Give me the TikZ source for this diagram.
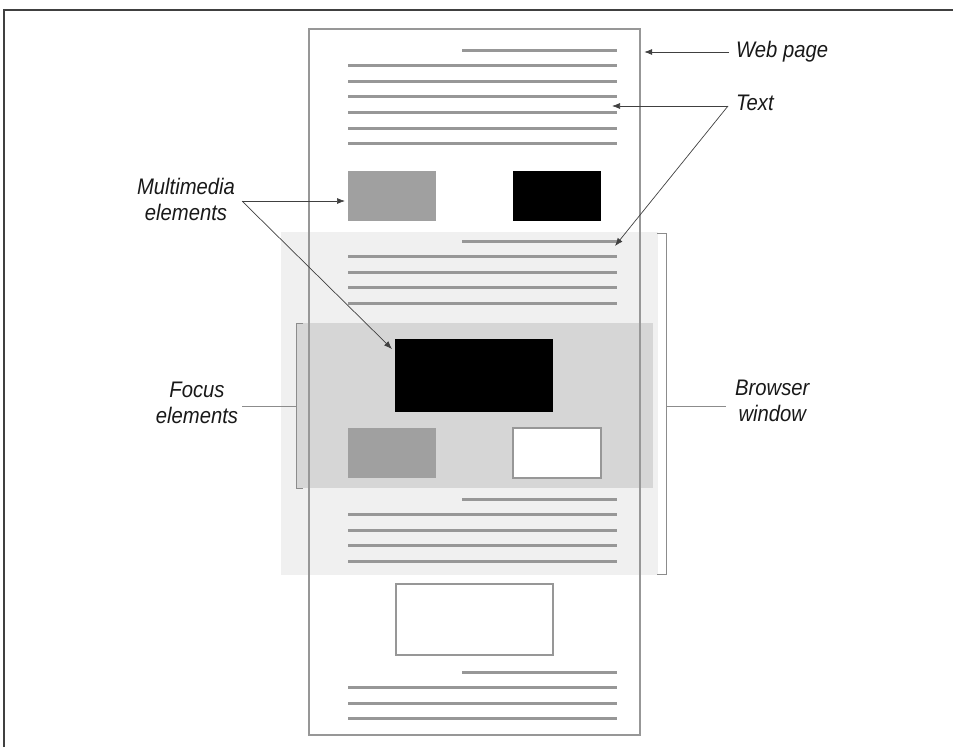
\documentclass[tikz,border=0pt]{standalone}
\usepackage{fontspec}
\newfontfamily\lblfont[FakeStretch=0.9]{Liberation Sans}
\usetikzlibrary{positioning,arrows.meta}

\definecolor{pagegray}{HTML}{979797}
\definecolor{boxgray}{HTML}{A0A0A0}
\definecolor{lightzone}{HTML}{F0F0F0}
\definecolor{focuszone}{HTML}{D6D6D6}
\definecolor{framegray}{HTML}{404040}

% one block of text: a short first line, then #2 full lines
\newcommand\textblock[2]{%
  \draw[txtline] (462,#1) -- (617,#1);
  \foreach \k in {1,...,#2}
    \draw[txtline] (348,#1+15.6*\k) -- (617,#1+15.6*\k);
}

\begin{document}
\begin{tikzpicture}[x=1pt, y=-1pt,
    lbl/.style={font=\lblfont\itshape\fontsize{22.5}{26}\selectfont, align=center, text=black!90, inner sep=0pt},
    block/.style={inner sep=0pt, outer sep=0pt, minimum width=88pt, minimum height=50pt},
    txtline/.style={draw=pagegray, line width=3pt},
    lead/.style={draw=black!45, line width=0.8pt},
    arr/.style={-{Latex[length=8pt,width=6pt]}, black!75, line width=0.7pt}
]
    \useasboundingbox (0,0) rectangle (953,747);

    % outer frame
    \draw[framegray, line width=2pt] (4,747) -- (4,10) -- (953,10);

    % browser window and focus area
    \fill[lightzone] (281,232) rectangle (658,575);
    \fill[focuszone] (296,323) rectangle (653,488);

    % web page
    \node[draw=pagegray, line width=2.4pt, inner sep=0pt, minimum width=331pt, minimum height=706pt] (page) at (474.5,382) {};

    % text
    \textblock{50}{6}
    \textblock{241}{4}
    \textblock{499}{4}
    \textblock{672}{3}

    % multimedia elements
    \node[block, fill=boxgray] (mmA) at (392,196) {};
    \node[block, fill=black] (mmB) at (557,196) {};
    \node[block, fill=black, minimum width=158pt, minimum height=73pt] (mmC) at (474,375.5) {};
    \node[block, fill=boxgray] (mmD) at (392,453) {};
    \node[block, fill=white, draw=pagegray, line width=2.4pt] (mmE) at (557,453) {};
    \node[block, fill=white, draw=pagegray, line width=2.4pt, minimum width=157pt, minimum height=71pt] (mmF) at (474.5,619.5) {};

    % labels
    \node[lbl, anchor=west] (weblbl) at (736,52) {Web page};
    \node[lbl, anchor=west] (txtlbl) at (736,103) {Text};
    \node[lbl] (mmlbl) at (186,199) {Multimedia\\elements};
    \node[lbl] (foclbl) at (197,403) {Focus\\elements};
    \node[lbl, anchor=west] (brwlbl) at (735,401) {Browser\\window};

    % arrows
    \draw[arr] ([xshift=-7pt]weblbl.west) -- ([xshift=3pt]page.east |- weblbl.west);
    \coordinate (txtfork) at (728,106);
    \coordinate (txtA) at (612,106);
    \coordinate (txtB) at (615,246);
    \draw[arr] (txtfork) -- (txtA);
    \draw[arr] (txtfork) -- (txtB);
    \coordinate (mmfork) at (242,201);
    \draw[arr] (mmfork) -- ([xshift=-3pt]mmA.west |- mmfork);
    \draw[arr] (mmfork) -- ([xshift=-3pt, yshift=-10pt]mmC.north west);

    % brackets
    \coordinate (focmid) at (296,406);
    \coordinate (brwmid) at (666,406);
    \draw[lead] (303,323) -- (296,323) -- (296,488) -- (303,488);
    \draw[lead] ([xshift=4pt]foclbl.east |- focmid) -- (focmid);
    \draw[lead] (657,233) -- (666,233) -- (666,574) -- (657,574);
    \draw[lead] (brwmid) -- ([xshift=-9pt]brwlbl.west |- brwmid);
\end{tikzpicture}
\end{document}
